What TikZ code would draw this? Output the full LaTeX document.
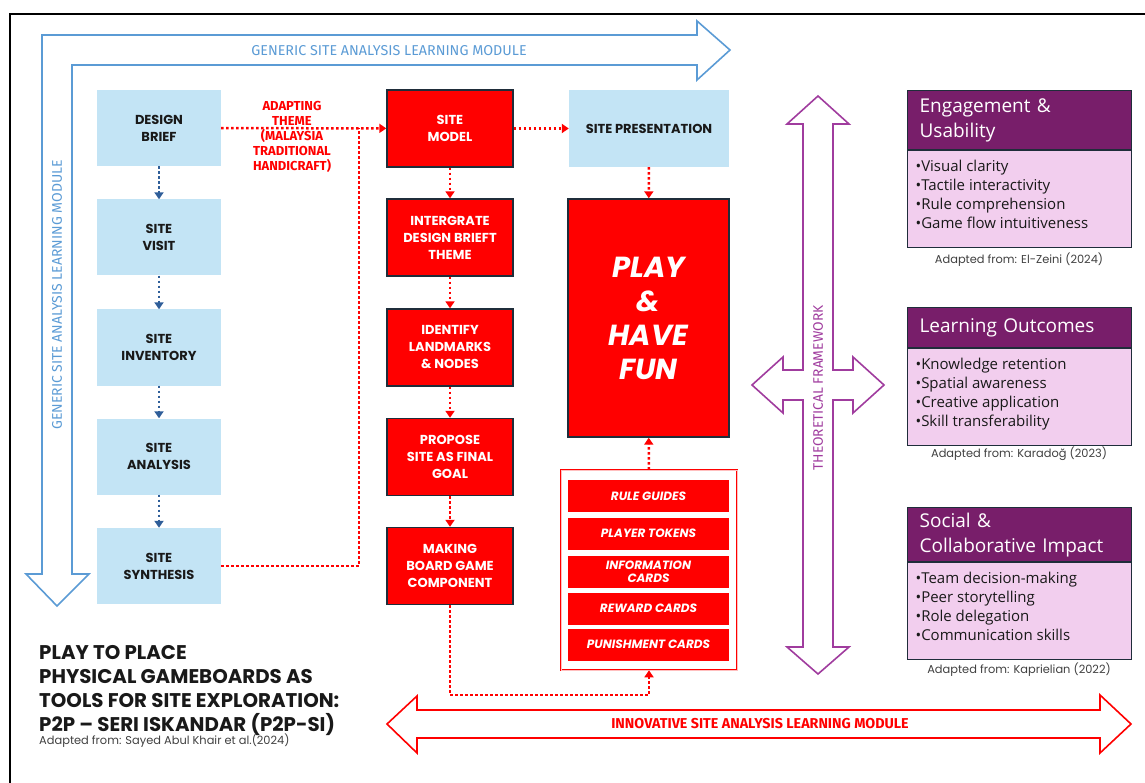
\documentclass[tikz,border=0pt]{standalone}
\usepackage{fontspec}
\setmainfont{Poppins}
\newfontfamily\labelfont{Fira Sans}
\newfontfamily\panelfont{Open Sans}
\usetikzlibrary{arrows.meta}
\definecolor{boxblue}{HTML}{C3E4F5}
\definecolor{arrowblue}{HTML}{5B9BD5}
\definecolor{flowblue}{HTML}{2F5E99}
\definecolor{edgedark}{HTML}{1F2D3A}
\definecolor{frameviolet}{HTML}{A03C9E}
\definecolor{headviolet}{HTML}{781E6A}
\definecolor{bodypink}{HTML}{F2CEEE}
\newcommand{\fs}[2]{\fontsize{#1}{#2}\selectfont}
\newcommand{\bodylist}[1]{\parbox[c][85pt][t]{208pt}{\vspace*{3pt}\raggedright #1}}

\begin{document}
\begin{tikzpicture}[x=1pt,y=-1pt,
  bluebox/.style={fill=boxblue, minimum width=124pt, minimum height=76pt, align=center, font=\fs{13}{17}\bfseries, text=black!90, inner sep=0pt},
  redbox/.style={draw=edgedark, line width=1.4pt, fill=red, minimum width=126pt, minimum height=77pt, align=center, font=\fs{13}{17}\bfseries, text=white, inner sep=0pt},
  kititem/.style={fill=red, minimum width=161pt, minimum height=32pt, align=center, font=\fs{12}{13}\bfseries\itshape, text=white, inner sep=0pt},
  blueflow/.style={flowblue, line width=2.5pt, dash pattern=on 2.5pt off 2.5pt, -{Triangle[length=7pt,width=9pt]}},
  redline/.style={red, line width=2.5pt, dash pattern=on 2.5pt off 2.5pt},
  redflow/.style={redline, -{Triangle[length=7pt,width=9pt]}},
  panelhead/.style={draw=edgedark, line width=1.2pt, fill=headviolet, text=white, font=\panelfont\fs{19}{25}, align=left, text width=200pt, inner xsep=12pt, inner ysep=0pt, anchor=north west},
  panelbody/.style={draw=edgedark, line width=1.2pt, fill=bodypink, text=black!90, font=\panelfont\fs{15}{19}, inner xsep=8pt, inner ysep=6pt, anchor=north west},
  cite/.style={font=\fs{11.4}{13}, text=black!75, inner sep=0pt}]

\useasboundingbox (0,0) rectangle (1145,783);

% outer frame
\draw[line width=1.4pt] (10,783) -- (10,14) -- (1145,14);

% generic module arrow
\draw[arrowblue, line width=1.6pt] (42,35) -- (697,35) -- (697,21) -- (730,50) -- (697,80) -- (697,65)
  -- (72,65) -- (72,574) -- (89,574) -- (57,606) -- (26,574) -- (42,574) -- cycle;
\node[text=arrowblue, font=\labelfont\fs{14.3}{16}] (generictop) at (389,51) {GENERIC SITE ANALYSIS LEARNING MODULE};
\node[text=arrowblue, font=\labelfont\fs{14}{16}, rotate=90] (genericside) at (57,295) {GENERIC SITE ANALYSIS LEARNING MODULE};

% innovative module arrow
\draw[red, line width=1.6pt] (387,724) -- (417,696) -- (417,710) -- (1100,710) -- (1100,695) -- (1131,724)
  -- (1100,753) -- (1100,738) -- (417,738) -- (417,753) -- cycle;
\node[text=red, font=\labelfont\fs{14.3}{16}\bfseries] (innovative) at (760,724) {INNOVATIVE SITE ANALYSIS LEARNING MODULE};

% theoretical framework cross
\draw[frameviolet, line width=1.6pt] (818,96) -- (849,124) -- (833,124) -- (833,370) -- (853,370) -- (853,357)
  -- (884,385) -- (853,413) -- (853,400) -- (833,400) -- (833,647) -- (849,647) -- (818,674) -- (787,647)
  -- (803,647) -- (803,400) -- (783,400) -- (783,413) -- (752,385) -- (783,357) -- (783,370) -- (803,370)
  -- (803,124) -- (787,124) -- cycle;
\node[text=frameviolet, font=\labelfont\fs{13.8}{15}, rotate=90] (theory) at (818,388) {THEORETICAL FRAMEWORK};

% generic column
\node[bluebox] (brief) at (159,128) {DESIGN\\BRIEF};
\node[bluebox] (visit) at (159,237.5) {SITE\\VISIT};
\node[bluebox] (inventory) at (159,347.5) {SITE\\INVENTORY};
\node[bluebox] (analysis) at (159,456.5) {SITE\\ANALYSIS};
\node[bluebox] (synthesis) at (159,566) {SITE\\SYNTHESIS};

% innovative column
\node[redbox] (model) at (450,128.5) {SITE\\MODEL};
\node[redbox] (integrate) at (450,237.5) {INTERGRATE\\DESIGN BRIEFT\\THEME};
\node[redbox] (landmarks) at (450,347.5) {IDENTIFY\\LANDMARKS\\\& NODES};
\node[redbox] (goal) at (450,457) {PROPOSE\\SITE AS FINAL\\GOAL};
\node[redbox] (component) at (450,566) {MAKING\\BOARD GAME\\COMPONENT};

\node[bluebox, minimum width=160pt, minimum height=77pt] (presentation) at (649,128.5) {SITE PRESENTATION};
\node[redbox, minimum width=161pt, minimum height=238pt, font=\fs{29}{34}\bfseries\itshape] (play) at (648.5,318) {PLAY\\\&\\HAVE\\FUN};

% game kit
\node[draw=red, double=red!25, double distance=0.8pt, line width=0.6pt, minimum width=176pt, minimum height=200pt] (kit) at (649,570) {};
\node[kititem] (rules) at (648.5,496) {RULE GUIDES};
\node[kititem] (tokens) at (648.5,533.5) {PLAYER TOKENS};
\node[kititem] (infocards) at (648.5,571.5) {INFORMATION\\CARDS};
\node[kititem] (reward) at (648.5,608.5) {REWARD CARDS};
\node[kititem] (punish) at (648.5,644.5) {PUNISHMENT CARDS};

% flows
\draw[blueflow] (brief) -- (visit);
\draw[blueflow] (visit) -- (inventory);
\draw[blueflow] (inventory) -- (analysis);
\draw[blueflow] (analysis) -- (synthesis);

\coordinate (join) at (359,128);
\coordinate (kitfoot) at (649,695);
\draw[redflow] (brief) -- (model);
\draw[redline] (synthesis.east) -| (join);
\node[text=red, align=center, font=\labelfont\fs{13}{15}\bfseries] (theme) at (292,137) {ADAPTING\\THEME\\(MALAYSIA\\TRADITIONAL\\HANDICRAFT)};
\draw[redflow] (model) -- (presentation);
\draw[redflow] (model) -- (integrate);
\draw[redflow] (integrate) -- (landmarks);
\draw[redflow] (landmarks) -- (goal);
\draw[redflow] (goal) -- (component);
\draw[redflow] (presentation) -- (play);
\draw[redflow] (kit) -- (play);
\draw[redflow] (component.south) |- (kitfoot) -- (kit.south);

% frameworks
\node[panelhead, minimum height=59pt] (usehead) at (907,90) {Engagement \&\\Usability};
\node[panelbody] (usebody) at (usehead.south west) {\bodylist{•Visual clarity\\•Tactile interactivity\\•Rule comprehension\\•Game flow intuitiveness}};
\node[cite] (usecite) at (1019,260) {Adapted from: El-Zeini (2024)};

\node[panelhead, minimum height=40pt] (learnhead) at (907,307) {Learning Outcomes};
\node[panelbody] (learnbody) at (learnhead.south west) {\bodylist{•Knowledge retention\\•Spatial awareness\\•Creative application\\•Skill transferability}};
\node[cite] (learncite) at (1019,454) {Adapted from: Karadoğ (2023)};

\node[panelhead, minimum height=54pt] (socialhead) at (907,507) {Social \&\\Collaborative Impact};
\node[panelbody] (socialbody) at (socialhead.south west) {\bodylist{•Team decision-making\\•Peer storytelling\\•Role delegation\\•Communication skills}};
\node[cite] (socialcite) at (1019,670) {Adapted from: Kaprielian (2022)};

% title
\node[anchor=north west, align=left, inner sep=0pt, font=\fs{19.8}{24}\bfseries, text=black!90] (title) at (39,645) {PLAY TO PLACE\\PHYSICAL GAMEBOARDS AS\\TOOLS FOR SITE EXPLORATION:\\P2P – SERI ISKANDAR (P2P-SI)};
\node[cite, anchor=west] (source) at (39,741) {Adapted from: Sayed Abul Khair et al.(2024)};
\end{tikzpicture}
\end{document}
